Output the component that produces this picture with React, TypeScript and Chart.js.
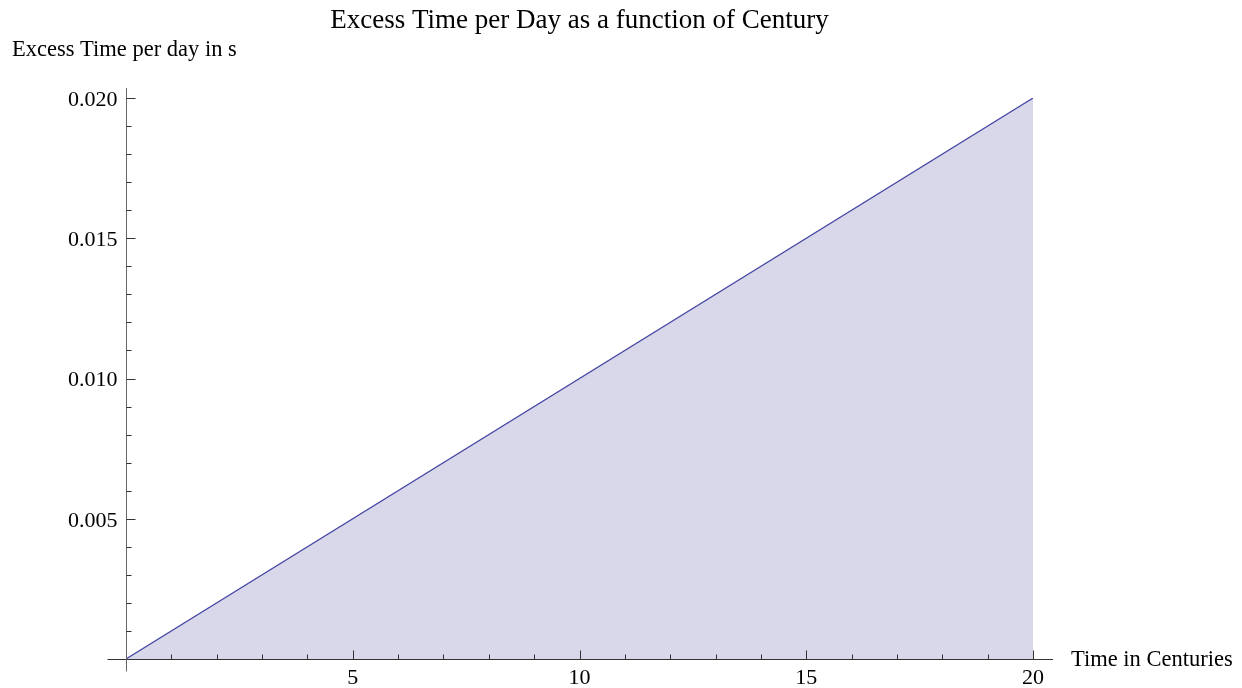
import React, { useEffect, useRef } from "react";
import { Chart, registerables } from "chart.js";

Chart.register(...registerables);

const TITLE = "Excess Time per Day as a function of Century";
const X_LABEL = "Time in Centuries";
const Y_LABEL = "Excess Time per day in s";

const centuries = [0, 20];
const excessSeconds = [0, 0.02];

const xMajorTicks = [5, 10, 15, 20];
const xTickLabels = ["5", "10", "15", "20"];
const yMajorTicks = [0.005, 0.01, 0.015, 0.02];
const yTickLabels = ["0.005", "0.010", "0.015", "0.020"];
const xMinorStep = 1;
const yMinorStep = 0.001;

const FONT = '"Liberation Serif", "Times New Roman", serif';

const axesPlugin = {
  id: "mmaAxes",
  afterDatasetsDraw(chart: any) {
    const ctx = chart.ctx as CanvasRenderingContext2D;
    const xs = chart.scales.x;
    const ys = chart.scales.y;
    const x0 = Math.round(xs.getPixelForValue(0)) + 0.5;
    const y0 = Math.round(ys.getPixelForValue(0)) + 0.5;
    const xEnd = xs.getPixelForValue(20);
    const yTop = ys.getPixelForValue(0.02);
    ctx.save();
    ctx.lineWidth = 1;
    ctx.strokeStyle = "#333";
    ctx.beginPath();
    ctx.moveTo(x0 - 19, y0);
    ctx.lineTo(xEnd + 20, y0);
    ctx.stroke();
    ctx.strokeStyle = "#666";
    ctx.beginPath();
    ctx.moveTo(x0, yTop - 10);
    ctx.lineTo(x0, y0 + 12);
    ctx.stroke();
    ctx.strokeStyle = "#333";
    for (let v = xMinorStep; v <= 20 + 1e-9; v += xMinorStep) {
      const px = Math.round(xs.getPixelForValue(v)) + 0.5;
      const major = xMajorTicks.some((m) => Math.abs(m - v) < 1e-9);
      ctx.beginPath();
      ctx.moveTo(px, y0);
      ctx.lineTo(px, y0 - (major ? 9 : 5));
      ctx.stroke();
    }
    for (let i = 1; i <= 20; i++) {
      const v = i * yMinorStep;
      const py = Math.round(ys.getPixelForValue(v)) + 0.5;
      const major = yMajorTicks.some((m) => Math.abs(m - v) < 1e-9);
      ctx.beginPath();
      ctx.moveTo(x0, py);
      ctx.lineTo(x0 + (major ? 9 : 5), py);
      ctx.stroke();
    }
    ctx.fillStyle = "#000";
    ctx.font = `22px ${FONT}`;
    ctx.textAlign = "center";
    ctx.textBaseline = "top";
    xMajorTicks.forEach((v, i) => {
      ctx.fillText(xTickLabels[i], xs.getPixelForValue(v), y0 + 8);
    });
    ctx.textAlign = "right";
    ctx.textBaseline = "middle";
    yMajorTicks.forEach((v, i) => {
      ctx.fillText(yTickLabels[i], x0 - 9, ys.getPixelForValue(v) + 2);
    });
    ctx.font = `22.5px ${FONT}`;
    ctx.textAlign = "left";
    ctx.textBaseline = "middle";
    ctx.fillText(X_LABEL, xEnd + 38, y0 + 1);
    ctx.textBaseline = "alphabetic";
    ctx.fillText(Y_LABEL, 12, 56);
    ctx.font = `27px ${FONT}`;
    ctx.textAlign = "center";
    ctx.fillText(TITLE, (xs.getPixelForValue(0) + xEnd) / 2, 28);
    ctx.restore();
  },
};

export default function App() {
  const ref = useRef<HTMLCanvasElement | null>(null);
  useEffect(() => {
    if (!ref.current) return;
    const chart = new Chart(ref.current, {
      type: "line",
      data: {
        datasets: [
          {
            data: centuries.map((c, i) => ({ x: c, y: excessSeconds[i] })),
            borderColor: "#4444a2",
            borderWidth: 1.2,
            backgroundColor: "#d8d8ea",
            fill: "origin",
            pointRadius: 0,
            tension: 0,
          },
        ],
      },
      options: {
        animation: false,
        responsive: false,
        maintainAspectRatio: false,
        layout: { padding: { left: 126, right: 209, top: 98, bottom: 29 } },
        plugins: { legend: { display: false }, title: { display: false }, tooltip: { enabled: false } },
        scales: {
          x: { type: "linear", min: 0, max: 20, display: false },
          y: { type: "linear", min: 0, max: 0.02, display: false },
        },
      },
      plugins: [axesPlugin],
    });
    return () => chart.destroy();
  }, []);
  return (
    <div style={{ position: "fixed", left: 0, top: 0, width: 1242, height: 688, background: "#fff" }}>
      <canvas ref={ref} width={1242} height={688} style={{ width: 1242, height: 688, display: "block" }} />
    </div>
  );
}
